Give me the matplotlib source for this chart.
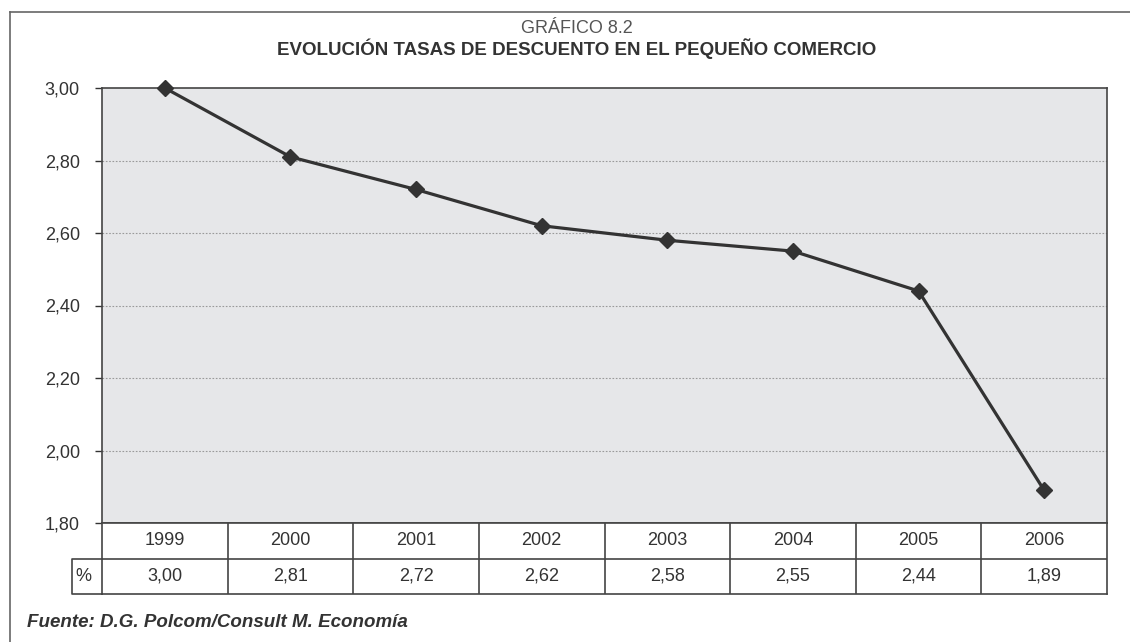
import matplotlib.pyplot as plt
from matplotlib.lines import Line2D
from matplotlib.ticker import FuncFormatter

years = ['1999', '2000', '2001', '2002', '2003', '2004', '2005', '2006']
rates = [3.00, 2.81, 2.72, 2.62, 2.58, 2.55, 2.44, 1.89]
rate_labels = ['3,00', '2,81', '2,72', '2,62', '2,58', '2,55', '2,44', '1,89']
y_ticks = [1.8, 2.0, 2.2, 2.4, 2.6, 2.8, 3.0]

plt.rcParams['font.family'] = ['Liberation Sans', 'DejaVu Sans']
dark = '#333333'
W, H = 1130, 642

fig = plt.figure(figsize=(W / 100, H / 100), dpi=100)

# main plot area (pixel layout converted to figure fractions)
ax = fig.add_axes([102 / W, (H - 523) / H, 1005 / W, 435 / H])
x = list(range(len(years)))
ax.set_facecolor('#e6e7e9')
ax.plot(x, rates, color=dark, lw=2.3, marker='D', ms=8, zorder=3, clip_on=False)
ax.set_xlim(-0.5, len(years) - 0.5)
ax.set_ylim(1.8, 3.0)
ax.set_yticks(y_ticks)
ax.yaxis.set_major_formatter(FuncFormatter(lambda v, p: f'{v:.2f}'.replace('.', ',')))
ax.set_xticks([])
ax.tick_params(axis='y', length=5, width=1, color=dark, pad=11, labelsize=13, labelcolor=dark)
for v in y_ticks[1:-1]:
    ax.axhline(v, color='#9a9a9a', lw=0.8, ls=(0, (1.5, 1.5)), zorder=1)
for s in ax.spines.values():
    s.set_color('#444444')
    s.set_linewidth(1.2)

# data table under the plot
tab = fig.add_axes([102 / W, (H - 594) / H, 1005 / W, 71 / H])
tab.set_xlim(-0.5, len(years) - 0.5)
tab.set_ylim(0, 2)
tab.set_xticks([])
tab.set_yticks([])
for s in tab.spines.values():
    s.set_color('#444444')
    s.set_linewidth(1.2)
for i in range(len(years) - 1):
    tab.axvline(i + 0.5, color='#444444', lw=1.2)
tab.axhline(1, color='#444444', lw=1.2)
for i, (yr, lab) in enumerate(zip(years, rate_labels)):
    tab.text(i, 1.5, yr, ha='center', va='center', fontsize=13, color=dark)
    tab.text(i, 0.5, lab, ha='center', va='center', fontsize=13, color=dark)
cw = 30 / (1005 / len(years))
tab.plot([-0.5, -0.5 - cw, -0.5 - cw, -0.5], [1, 1, 0, 0], color='#444444', lw=1.2, clip_on=False)
tab.text(-0.5 - cw + 3 / 125.6, 0.5, '%', ha='left', va='center', fontsize=13, color=dark)

# outer frame, titles and source
fig.add_artist(Line2D([10 / W, 1], [1 - 12 / H, 1 - 12 / H], color='#666666', lw=1.2))
fig.add_artist(Line2D([10 / W, 10 / W], [0, 1 - 12 / H], color='#666666', lw=1.2))
fig.text(577 / W, 1 - 33 / H, 'GRÁFICO 8.2', ha='center', va='baseline', fontsize=13, color='#555555')
fig.text(577 / W, 1 - 55 / H, 'EVOLUCIÓN TASAS DE DESCUENTO EN EL PEQUEÑO COMERCIO',
         ha='center', va='baseline', fontsize=13.5, fontweight='bold', color=dark)
fig.text(27 / W, 1 - 627 / H, 'Fuente: D.G. Polcom/Consult M. Economía', ha='left', va='baseline',
         fontsize=13.5, fontweight='bold', fontstyle='italic', color=dark)

fig.savefig('out.png', dpi=100)
